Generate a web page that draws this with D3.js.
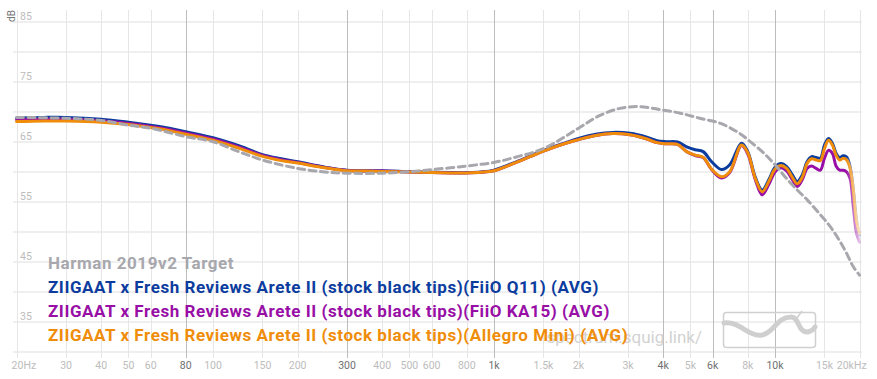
<!DOCTYPE html>
<html>
<head>
<meta charset="utf-8">
<script src="https://cdn.jsdelivr.net/npm/d3@7"></script>
<style>
body { margin: 0; background: #fff; }
svg { display: block; font-family: Roboto, "Noto Sans", sans-serif; }
.grid-h { stroke: #efefef; stroke-width: 2; }
.grid-v { stroke: #e6e6e6; stroke-width: 1; }
.grid-v.major { stroke: #bdbdbd; }
.xlab { font-size: 10.5px; fill: #bcbcbc; }
.xlab.major { fill: #6f6f6f; }
.ylab { font-size: 10.5px; fill: #bcbcbc; }
.legend { font-size: 17px; font-weight: 700; letter-spacing: 0.55px; }
.fr { fill: none; stroke-width: 3; stroke-linejoin: round; stroke-linecap: round; }
</style>
</head>
<body>
<svg id="fr"></svg>
<script>
// target curve (Harman 2019v2)
var targetFreq = [20, 30, 40, 50, 60, 80, 100, 125, 150, 200, 250, 300, 400, 500, 600, 800, 1000, 1200, 1500, 2000, 2350, 2800, 3300, 3900, 4600, 5400, 6400, 7500, 8000, 9000, 10000, 11000, 12000, 13000, 14000, 15000, 16000, 17000, 18000, 19000, 20000];
var targetDb = [69.1, 68.95, 68.6, 67.8, 67.3, 65.9, 65.05, 63.3, 62.0, 60.6, 60.0, 59.8, 59.8, 60.05, 60.4, 61.0, 61.6, 62.5, 63.9, 67.3, 69.3, 70.6, 70.9, 70.4, 69.8, 68.95, 68.1, 66.4, 65.4, 63.4, 61.2, 58.9, 57.0, 55.4, 53.7, 52.1, 50.4, 48.5, 46.4, 44.2, 42.8];

// measurements, one frequency grid
var measFreq = [20, 25, 30, 40, 50, 60, 70, 80, 100, 125, 150, 175, 200, 250, 300, 350, 400, 500, 600, 700, 800, 900, 1000, 1200, 1500, 1800, 2000, 2300, 2650, 3050, 3500, 3800, 4100, 4500, 4850, 5200, 5550, 5950, 6450, 6900, 7600, 8000, 8500, 9000, 9500, 10000, 10500, 11000, 11500, 12000, 12500, 13000, 13500, 14000, 14500, 15000, 15500, 16000, 16500, 17000, 17500, 18000, 18500, 19000, 19500, 20000];
var q11Db = [69.0, 69.1, 69.1, 68.8, 68.3, 67.8, 67.3, 66.7, 65.7, 64.3, 62.9, 62.2, 61.7, 60.8, 60.3, 60.2, 60.2, 60.05, 59.95, 59.9, 59.9, 60.0, 60.3, 61.7, 63.6, 64.9, 65.6, 66.3, 66.6, 66.45, 65.8, 65.2, 65.05, 65.0, 64.2, 63.7, 63.4, 61.7, 60.4, 61.2, 64.8, 63.4, 59.2, 57.0, 58.7, 60.8, 61.4, 60.9, 59.6, 58.4, 59.5, 61.7, 62.55, 62.4, 62.3, 64.5, 65.6, 64.8, 63.1, 62.4, 62.7, 62.5, 60.9, 57.0, 52.0, 49.5];
var ka15Db = [68.7, 68.8, 68.8, 68.55, 68.1, 67.6, 67.1, 66.5, 65.5, 64.1, 62.75, 62.05, 61.6, 60.75, 60.25, 60.15, 60.15, 60.0, 59.9, 59.85, 59.85, 59.95, 60.2, 61.6, 63.5, 64.8, 65.4, 66.1, 66.4, 66.2, 65.5, 64.9, 64.7, 64.6, 63.4, 62.75, 62.4, 60.4, 59.0, 59.9, 64.4, 63.0, 58.8, 56.2, 57.9, 60.0, 60.7, 60.2, 58.8, 57.6, 58.7, 60.6, 61.0, 60.6, 60.3, 62.3, 63.6, 63.1, 60.95, 60.3, 60.3, 60.0, 58.9, 54.2, 49.8, 48.3];
var allegroDb = [68.4, 68.5, 68.5, 68.3, 67.9, 67.4, 66.9, 66.3, 65.3, 63.9, 62.6, 61.9, 61.5, 60.7, 60.2, 60.15, 60.1, 60.0, 59.9, 59.85, 59.85, 59.95, 60.2, 61.6, 63.5, 64.8, 65.4, 66.1, 66.4, 66.2, 65.5, 64.9, 64.7, 64.6, 63.4, 62.8, 62.45, 60.45, 59.2, 60.05, 64.5, 63.2, 59.0, 56.7, 58.4, 60.5, 61.1, 60.6, 59.2, 58.05, 59.1, 61.4, 62.2, 62.0, 61.9, 63.9, 65.3, 64.5, 62.8, 62.0, 62.3, 62.0, 60.6, 57.0, 51.8, 49.8];

// axes
var xTicks = [20, 30, 40, 50, 60, 80, 100, 150, 200, 300, 400, 500, 600, 800, 1000, 1500, 2000, 3000, 4000, 5000, 6000, 8000, 10000, 15000, 20000];
var xTickLabels = ["20Hz", "30", "40", "50", "60", "80", "100", "150", "200", "300", "400", "500", "600", "800", "1k", "1.5k", "2k", "3k", "4k", "5k", "6k", "8k", "10k", "15k", "20kHz"];
var majorTicks = [80, 300, 1000, 4000, 6000, 10000];
var yGrid = [30, 35, 40, 45, 50, 55, 60, 65, 70, 75, 80, 85];
var yTickLabels = [85, 75, 65, 55, 45, 35];

var legendNames = [
	"Harman 2019v2 Target",
	"ZIIGAAT x Fresh Reviews Arete II (stock black tips)(FiiO Q11) (AVG)",
	"ZIIGAAT x Fresh Reviews Arete II (stock black tips)(FiiO KA15) (AVG)",
	"ZIIGAAT x Fresh Reviews Arete II (stock black tips)(Allegro Mini) (AVG)"
];

var FR = {
	width0: 877,
	height0: 379,
	plot: {left: 16.6, right: 859.6, top: 22, bottom: 352},
	colors: {target: "#a7a7ad", q11: "#0b3c9e", ka15: "#980fa6", allegro: "#ef8d0b"},

	Init: function() {
		var p = this.plot;
		this.svg = d3.select("#fr").attr("width", this.width0).attr("height", this.height0);
		this.x = d3.scaleLog().domain([20, 20000]).range([p.left, p.right]);
		this.y = d3.scaleLinear().domain([30, 85]).range([p.bottom, p.top]);

		var defs = this.svg.append("defs");
		//fade out the top end of the measured curves
		var grad = defs.append("linearGradient").attr("id", "fadegrad")
			.attr("gradientUnits", "userSpaceOnUse")
			.attr("x1", 846).attr("x2", 864).attr("y1", 0).attr("y2", 0);
		grad.append("stop").attr("offset", 0).attr("stop-color", "#fff");
		grad.append("stop").attr("offset", 1).attr("stop-color", "#000");
		defs.append("mask").attr("id", "fade").attr("maskUnits", "userSpaceOnUse")
			.attr("x", 0).attr("y", 0).attr("width", this.width0).attr("height", this.height0)
			.append("rect").attr("width", this.width0).attr("height", this.height0).attr("fill", "url(#fadegrad)");
	},

	DrawGrid: function() {
		var x = this.x, y = this.y, svg = this.svg;
		svg.append("g").selectAll("line").data(yGrid).join("line")
			.attr("class", "grid-h")
			.attr("x1", 13).attr("x2", 862)
			.attr("y1", function(d) { return y(d); }).attr("y2", function(d) { return y(d); });

		svg.append("g").selectAll("line").data(xTicks).join("line")
			.attr("class", function(d) { return majorTicks.indexOf(d) >= 0 ? "grid-v major" : "grid-v"; })
			.attr("x1", function(d) { return Math.round(x(d)) + 0.5; })
			.attr("x2", function(d) { return Math.round(x(d)) + 0.5; })
			.attr("y1", 10).attr("y2", 358);

		svg.append("g").selectAll("text").data(xTicks).join("text")
			.attr("class", function(d) { return majorTicks.indexOf(d) >= 0 ? "xlab major" : "xlab"; })
			.attr("x", function(d, i) {
				if (i === 0) return x(d) - 5;
				if (i === xTicks.length - 1) return x(d) + 7;
				return x(d);
			})
			.attr("y", 369)
			.attr("text-anchor", function(d, i) { return i === 0 ? "start" : (i === xTicks.length - 1 ? "end" : "middle"); })
			.text(function(d, i) { return xTickLabels[i]; });

		svg.append("g").selectAll("text").data(yTickLabels).join("text")
			.attr("class", "ylab")
			.attr("x", 20)
			.attr("y", function(d) { return y(d) - 2; })
			.text(function(d) { return d; });

		svg.append("text").attr("transform", "translate(15,16)rotate(-90)")
			.attr("text-anchor", "middle").style("font-size", "10px").style("fill", "#777")
			.text("dB");
	},

	DrawWatermark: function() {
		var svg = this.svg;
		svg.append("text").attr("x", 702).attr("y", 343).attr("text-anchor", "end")
			.style("font-size", "17px").style("fill", "#d2d2d2").text("spectrum.squig.link/");
		var g = svg.append("g");
		g.append("rect").attr("x", 723.5).attr("y", 312.5).attr("width", 92).attr("height", 35).attr("rx", 3)
			.attr("fill", "none").attr("stroke", "#d0d0d0").attr("stroke-width", 1.5);
		g.append("path").attr("d", "M724,323 C740,321 748,337 762,335 C774,333 776,318 790,317 C800,316 797,333 808,332 C812,331 814,329 815,327")
			.attr("fill", "none").attr("stroke", "#cfcfcf").attr("stroke-width", 5).attr("stroke-linecap", "round");
		g.append("path").attr("d", "M797,318 L802,311").attr("stroke", "#cfcfcf").attr("stroke-width", 1.5);
	},

	DrawCurves: function() {
		var x = this.x, y = this.y, c = this.colors;
		var line = d3.line().curve(d3.curveCatmullRom.alpha(0.5));

		function pts(freq, db) { return freq.map(function(f, i) { return [x(f), y(db[i])]; }); }

		var meas = this.svg.append("g").attr("mask", "url(#fade)");
		meas.append("path").attr("class", "fr").attr("stroke", c.q11).attr("d", line(pts(measFreq, q11Db)));
		meas.append("path").attr("class", "fr").attr("stroke", c.ka15).attr("d", line(pts(measFreq, ka15Db)));
		meas.append("path").attr("class", "fr").attr("stroke", c.allegro).attr("d", line(pts(measFreq, allegroDb)));

		this.svg.append("path").attr("class", "fr")
			.attr("stroke", c.target).attr("stroke-dasharray", "7,4.5").attr("stroke-linecap", "butt")
			.attr("d", line(pts(targetFreq, targetDb)));
	},

	DrawLegend: function() {
		var c = this.colors;
		var cols = [c.target, c.q11, c.ka15, c.allegro];
		this.svg.append("g").selectAll("text").data(legendNames).join("text")
			.attr("class", "legend")
			.attr("x", 48)
			.attr("y", function(d, i) { return 269 + i * 24; })
			.style("fill", function(d, i) { return cols[i]; })
			.text(function(d) { return d; });
	}
};

FR.Init();
FR.DrawGrid();
FR.DrawWatermark();
FR.DrawCurves();
FR.DrawLegend();
</script>
</body>
</html>
